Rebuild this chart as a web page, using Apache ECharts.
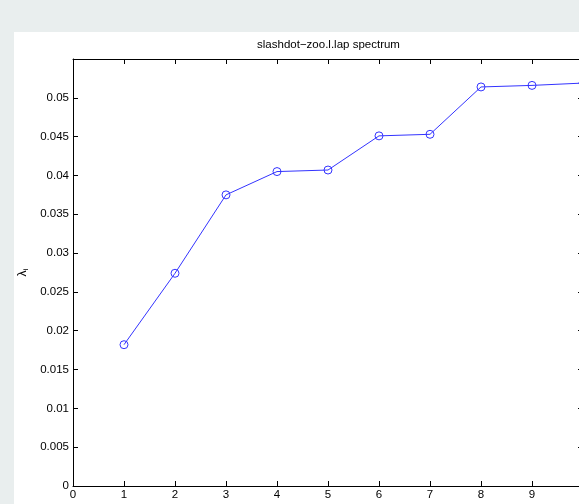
<!DOCTYPE html>
<html>
<head>
<meta charset="utf-8">
<script src="https://cdn.jsdelivr.net/npm/echarts@6/dist/echarts.min.js"></script>
<style>
  html, body { margin: 0; padding: 0; width: 579px; height: 504px; overflow: hidden; background: #e9eeee; }
  #panel { position: absolute; left: 14px; top: 32px; width: 600px; height: 480px; background: #ffffff; }
</style>
</head>
<body>
<div id="panel"></div>
<script>
// Eigenvalue index and the corresponding Laplacian eigenvalues
const eigenIndex = [1, 2, 3, 4, 5, 6, 7, 8, 9, 10];
const eigenValues = [0.0182, 0.0274, 0.0375, 0.0405, 0.0407, 0.0451, 0.0453, 0.0514, 0.0516, 0.0519];
const xTicks = [0, 1, 2, 3, 4, 5, 6, 7, 8, 9];
const yTickLabels = ['0', '0.005', '0.01', '0.015', '0.02', '0.025', '0.03', '0.035', '0.04', '0.045', '0.05'];

const chart = echarts.init(document.getElementById('panel'), null, { renderer: 'canvas' });

const font = '"Liberation Sans", Arial, sans-serif';
const axisLine = { show: true, onZero: false, lineStyle: { color: '#000', width: 1 } };
const tick = { show: true, inside: true, length: 5, lineStyle: { color: '#000' } };

chart.setOption({
  animation: false,
  graphic: [{
    type: 'text', x: 314.5, y: 7,
    style: {
      text: 'slashdot\u2212zoo.l.lap spectrum',
      align: 'center', verticalAlign: 'top',
      font: '11.5px ' + font, fill: '#000'
    }
  }],
  grid: { left: 59, top: 27, width: 510, height: 427, outerBoundsMode: 'none', containLabel: false },
  xAxis: [{
    type: 'value', min: 0, max: 10, interval: 1, position: 'bottom',
    axisLine: axisLine, axisTick: tick,
    axisLabel: {
      fontFamily: font, fontSize: 11.5, color: '#000', margin: 3,
      formatter: v => (xTicks.includes(v) ? String(v) : '')
    },
    splitLine: { show: false }
  }, {
    type: 'value', min: 0, max: 10, interval: 1, position: 'top',
    axisLine: axisLine, axisTick: tick,
    axisLabel: { show: false },
    splitLine: { show: false }
  }],
  yAxis: [{
    type: 'value', min: 0, max: 0.055, interval: 0.005, position: 'left',
    name: '{l|\u03bb}{s|i}', nameLocation: 'middle', nameRotate: 90, nameGap: 36,
    nameTextStyle: {
      rich: {
        l: { fontFamily: font, fontSize: 12, color: '#000' },
        s: { fontFamily: font, fontSize: 8, color: '#000', verticalAlign: 'bottom', padding: [6, 0, 0, 0] }
      }
    },
    axisLine: axisLine, axisTick: tick,
    axisLabel: {
      fontFamily: font, fontSize: 11.5, color: '#000', margin: 4,
      formatter: v => {
        const i = Math.round(v / 0.005);
        return i < yTickLabels.length ? yTickLabels[i] : '';
      }
    },
    splitLine: { show: false }
  }, {
    type: 'value', min: 0, max: 0.055, interval: 0.005, position: 'right',
    axisLine: axisLine, axisTick: tick,
    axisLabel: { show: false },
    splitLine: { show: false }
  }],
  series: [{
    type: 'line',
    xAxisIndex: 0, yAxisIndex: 0,
    data: eigenIndex.map((x, i) => [x, eigenValues[i]]),
    symbol: 'circle', symbolSize: 8, showSymbol: true,
    itemStyle: { color: 'rgba(0,0,0,0)', borderColor: '#3333ff', borderWidth: 1 },
    lineStyle: { color: '#3333ff', width: 1 },
    clip: false
  }]
});
</script>
</body>
</html>
